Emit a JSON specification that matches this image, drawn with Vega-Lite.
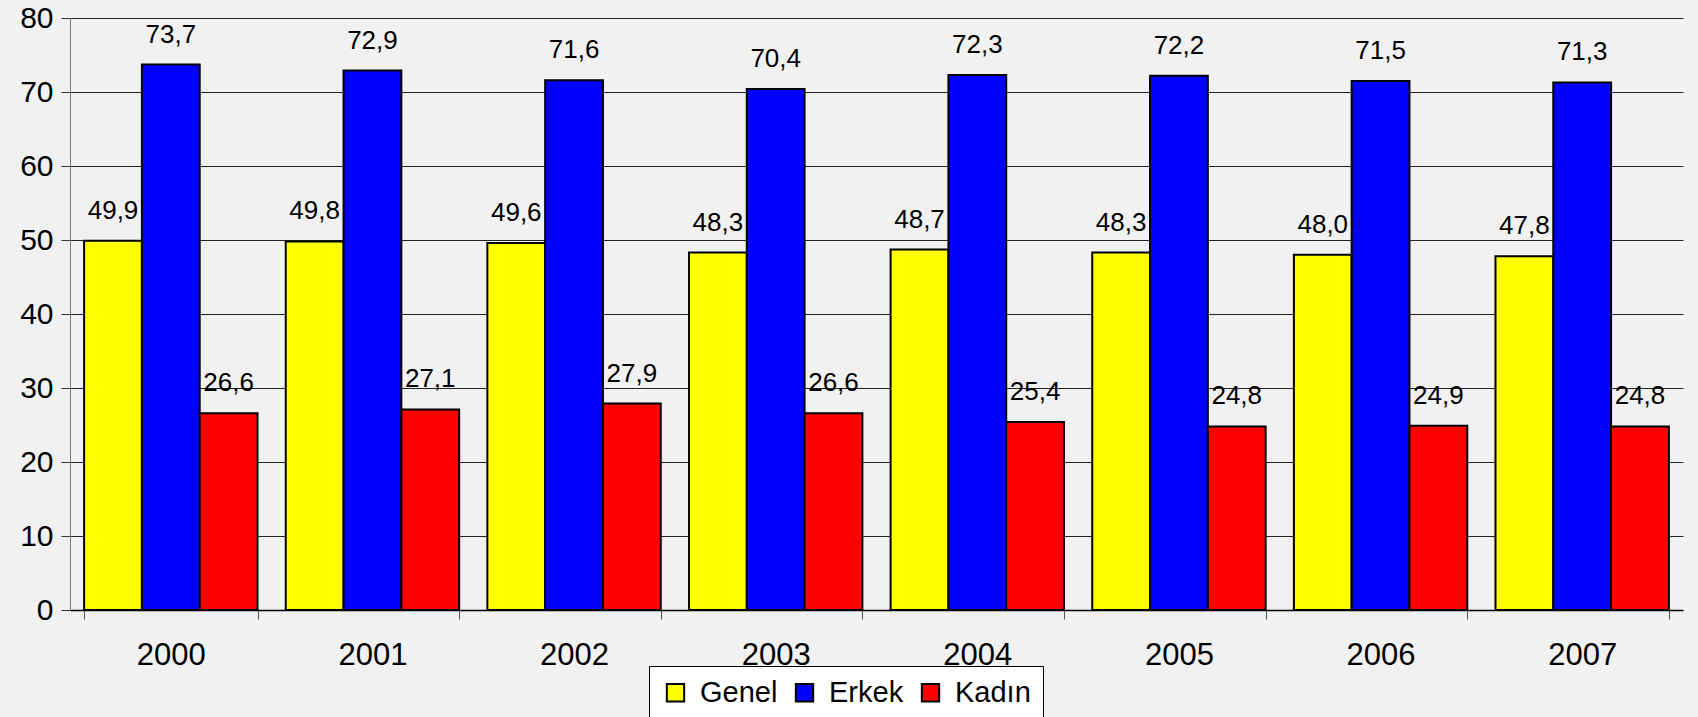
{
  "$schema": "https://vega.github.io/schema/vega-lite/v6.json",
  "width": 1613,
  "height": 592,
  "autosize": "none",
  "padding": {"left": 70, "top": 18, "right": 15, "bottom": 107},
  "background": "#f1f1f1",
  "config": {
    "font": "Liberation Sans",
    "view": {"stroke": null},
    "locale": {"number": {"decimal": ",", "thousands": ".", "grouping": [3], "currency": ["", " TL"]}}
  },
  "data": {
    "values": [
      {"year": "2000", "series": "Genel", "value": 49.9},
      {"year": "2000", "series": "Erkek", "value": 73.7},
      {"year": "2000", "series": "Kadın", "value": 26.6},
      {"year": "2001", "series": "Genel", "value": 49.8},
      {"year": "2001", "series": "Erkek", "value": 72.9},
      {"year": "2001", "series": "Kadın", "value": 27.1},
      {"year": "2002", "series": "Genel", "value": 49.6},
      {"year": "2002", "series": "Erkek", "value": 71.6},
      {"year": "2002", "series": "Kadın", "value": 27.9},
      {"year": "2003", "series": "Genel", "value": 48.3},
      {"year": "2003", "series": "Erkek", "value": 70.4},
      {"year": "2003", "series": "Kadın", "value": 26.6},
      {"year": "2004", "series": "Genel", "value": 48.7},
      {"year": "2004", "series": "Erkek", "value": 72.3},
      {"year": "2004", "series": "Kadın", "value": 25.4},
      {"year": "2005", "series": "Genel", "value": 48.3},
      {"year": "2005", "series": "Erkek", "value": 72.2},
      {"year": "2005", "series": "Kadın", "value": 24.8},
      {"year": "2006", "series": "Genel", "value": 48.0},
      {"year": "2006", "series": "Erkek", "value": 71.5},
      {"year": "2006", "series": "Kadın", "value": 24.9},
      {"year": "2007", "series": "Genel", "value": 47.8},
      {"year": "2007", "series": "Erkek", "value": 71.3},
      {"year": "2007", "series": "Kadın", "value": 24.8}
    ]
  },
  "encoding": {
    "x": {
      "field": "year", "type": "nominal",
      "scale": {"paddingInner": 0.14, "paddingOuter": 0.07},
      "axis": {
        "title": null, "labelAngle": 0, "labelFontSize": 31, "labelColor": "black",
        "labelPadding": 21, "tickBand": "extent", "tickSize": 9, "tickColor": "#555",
        "domainColor": "black", "domainWidth": 1.5, "grid": false
      }
    },
    "xOffset": {
      "field": "series", "type": "nominal", "sort": ["Genel", "Erkek", "Kadın"],
      "scale": {"paddingInner": 0, "paddingOuter": 0}
    },
    "y": {
      "field": "value", "type": "quantitative",
      "scale": {"domain": [0, 80]},
      "axis": {
        "title": null, "values": [0, 10, 20, 30, 40, 50, 60, 70, 80],
        "labelFontSize": 30, "labelColor": "black", "labelPadding": 8,
        "tickSize": 9, "tickColor": "#333", "domainColor": "#777",
        "grid": true, "gridColor": "#222", "gridWidth": 1
      }
    }
  },
  "layer": [
    {
      "mark": {"type": "bar", "stroke": "black", "strokeWidth": 2},
      "encoding": {
        "color": {
          "field": "series", "type": "nominal", "sort": ["Genel", "Erkek", "Kadın"],
          "scale": {"domain": ["Genel", "Erkek", "Kadın"], "range": ["#ffff00", "#0000ff", "#ff0000"]},
          "legend": {
            "title": null, "orient": "none", "legendX": 579, "legendY": 648,
            "direction": "horizontal",
            "fillColor": "white", "strokeColor": "black", "padding": 12,
            "labelFontSize": 29, "labelColor": "black", "labelOffset": 10,
            "symbolType": "square", "symbolSize": 300,
            "symbolStrokeColor": "black", "symbolStrokeWidth": 2,
            "symbolOpacity": 1, "columnPadding": 12
          }
        }
      }
    },
    {
      "mark": {"type": "text", "dy": -22, "fontSize": 26, "baseline": "alphabetic", "color": "black"},
      "encoding": {"text": {"field": "value", "type": "quantitative", "format": ".1f"}}
    }
  ]
}
